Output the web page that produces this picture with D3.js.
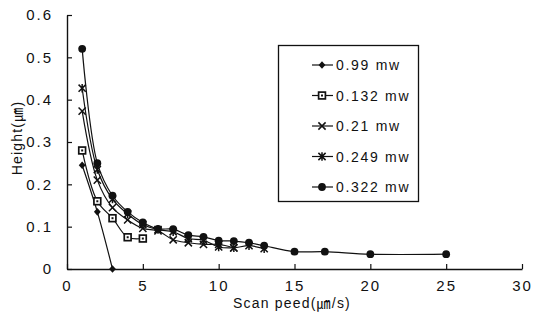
<!DOCTYPE html>
<html><head><meta charset="utf-8">
<script src="https://cdn.jsdelivr.net/npm/d3@7/dist/d3.min.js"></script>
<style>
body{margin:0;background:#fff}
text{font-family:"Liberation Sans",Arial,"Noto Sans CJK KR",sans-serif;fill:#111}
</style></head><body>
<svg id="c" width="533" height="320"></svg>
<script>
// ---- data ----
const seriesNames = ["0.99 mw", "0.132 mw", "0.21 mw", "0.249 mw", "0.322 mw"];
const speed099 = [1, 2, 3];
const height099 = [0.245, 0.135, 0.0];
const speed132 = [1, 2, 3, 4, 5];
const height132 = [0.28, 0.16, 0.12, 0.075, 0.072];
const speed21 = [1, 2, 3, 4, 5, 6, 7, 8, 9, 10, 11];
const height21 = [0.373, 0.21, 0.145, 0.116, 0.096, 0.09, 0.069, 0.062, 0.058, 0.058, 0.05];
const speed249 = [1, 2, 3, 4, 5, 6, 7, 8, 9, 10, 11, 12, 13];
const height249 = [0.427, 0.235, 0.165, 0.13, 0.105, 0.093, 0.088, 0.072, 0.068, 0.052, 0.05, 0.055, 0.048];
const speed322 = [1, 2, 3, 4, 5, 6, 7, 8, 9, 10, 11, 12, 13, 15, 17, 20, 25];
const height322 = [0.52, 0.25, 0.173, 0.135, 0.11, 0.095, 0.094, 0.08, 0.076, 0.067, 0.066, 0.062, 0.055, 0.041, 0.041, 0.035, 0.035];
const xTicks = [0, 5, 10, 15, 20, 25, 30];
const yTicks = [0, 0.1, 0.2, 0.3, 0.4, 0.5, 0.6];
const xTitle = "Scan peed(㎛/s)";
const yTitle = "Height(㎛)";

const markers = ["diamond", "square", "x", "star", "circle"];
const series = [
  {name: seriesNames[0], xs: speed099, ys: height099, m: markers[0]},
  {name: seriesNames[1], xs: speed132, ys: height132, m: markers[1]},
  {name: seriesNames[2], xs: speed21, ys: height21, m: markers[2]},
  {name: seriesNames[3], xs: speed249, ys: height249, m: markers[3]},
  {name: seriesNames[4], xs: speed322, ys: height322, m: markers[4]}
];

const svg = d3.select("#c");
const x = d3.scaleLinear().domain([0, 30]).range([67, 522]);
const y = d3.scaleLinear().domain([0, 0.6]).range([269, 15]);

// axes
const gx = svg.append("g").attr("transform", "translate(0,269)")
  .call(d3.axisBottom(x).tickValues(xTicks).tickFormat(d3.format("d"))
    .tickSizeInner(-5).tickSizeOuter(0).tickPadding(11));
const gy = svg.append("g").attr("transform", "translate(67,0)")
  .call(d3.axisLeft(y).tickValues(yTicks).tickFormat(d => d === 0 ? "0" : d3.format(".1f")(d))
    .tickSizeInner(-5).tickSizeOuter(0).tickPadding(14));
[gx, gy].forEach(g => {
  g.select(".domain").attr("stroke", "#111").attr("stroke-width", 1.4);
  g.selectAll(".tick line").attr("stroke", "#111").attr("stroke-width", 1.2);
  g.selectAll(".tick text").attr("font-size", 15).style("letter-spacing", "2px")
    .attr("fill", "#111").style("font-family", '"Liberation Sans",Arial,sans-serif');
});

// marker drawing
function drawMarker(g, type, cx, cy) {
  const s = g.append("g").attr("transform", `translate(${cx},${cy})`);
  if (type === "diamond") {
    s.append("path").attr("d", "M0,-3.8L3.4,0L0,3.8L-3.4,0Z").attr("fill", "#111");
  } else if (type === "square") {
    s.append("rect").attr("x", -3.4).attr("y", -3.4).attr("width", 6.8).attr("height", 6.8)
      .attr("fill", "#fff").attr("stroke", "#111").attr("stroke-width", 1.7);
    s.append("rect").attr("x", -1).attr("y", -1).attr("width", 2).attr("height", 2).attr("fill", "#111");
  } else if (type === "x") {
    s.append("path").attr("d", "M-3.6,-3.6L3.6,3.6M-3.6,3.6L3.6,-3.6")
      .attr("stroke", "#111").attr("stroke-width", 1.5);
  } else if (type === "star") {
    s.append("path").attr("d", "M-3.6,-3.6L3.6,3.6M-3.6,3.6L3.6,-3.6M0,-4.2L0,4.2")
      .attr("stroke", "#111").attr("stroke-width", 1.5);
  } else {
    s.append("circle").attr("r", 3.9).attr("fill", "#111");
  }
}

const line = d3.line().curve(d3.curveCatmullRom.alpha(0.5)).x(d => x(d[0])).y(d => y(d[1]));
series.forEach(sr => {
  const pts = sr.xs.map((v, i) => [v, sr.ys[i]]);
  svg.append("path").attr("d", line(pts)).attr("fill", "none")
    .attr("stroke", "#111").attr("stroke-width", 1.2);
});
series.forEach(sr => {
  const g = svg.append("g");
  sr.xs.forEach((v, i) => drawMarker(g, sr.m, x(v), y(sr.ys[i])));
});

// legend
svg.append("rect").attr("x", 278.5).attr("y", 45.5).attr("width", 140).attr("height", 156)
  .attr("fill", "#fff").attr("stroke", "#111").attr("stroke-width", 1.3);
const legY = d3.scalePoint().domain(seriesNames).range([65, 187]);
series.forEach(sr => {
  const ly = legY(sr.name);
  svg.append("line").attr("x1", 312).attr("x2", 333).attr("y1", ly).attr("y2", ly)
    .attr("stroke", "#111").attr("stroke-width", 1.2);
  drawMarker(svg, sr.m, 322, ly);
  svg.append("text").attr("x", 336).attr("y", ly + 5).attr("font-size", 14)
    .style("letter-spacing", "1.7px").text(sr.name);
});

// titles
svg.append("text").attr("x", 292).attr("y", 308).attr("text-anchor", "middle")
  .attr("font-size", 14).style("letter-spacing", "1.2px").text(xTitle);
svg.append("text").attr("transform", "translate(22,138) rotate(-90)").attr("text-anchor", "middle")
  .attr("font-size", 14).style("letter-spacing", "1.2px").text(yTitle);
</script></body></html>
